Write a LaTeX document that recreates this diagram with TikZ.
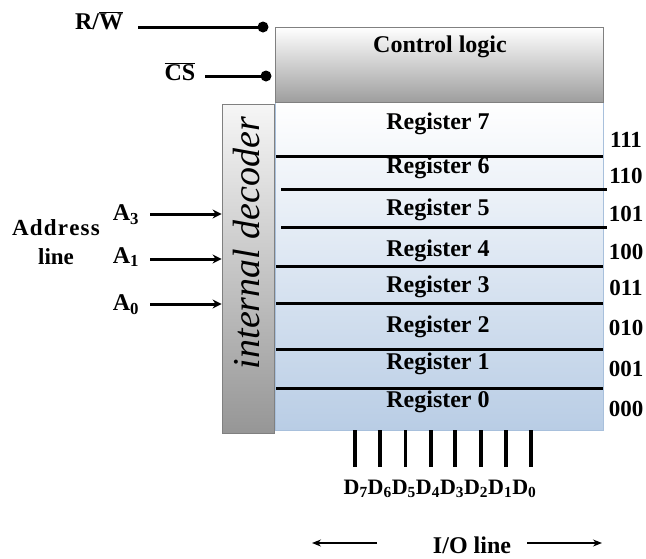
\documentclass[tikz,border=0pt]{standalone}
\usepackage{fontspec}
\setmainfont{Liberation Serif}
\usetikzlibrary{arrows.meta}
\definecolor{ctrlbot}{HTML}{9E9E9E}
\definecolor{regbot}{HTML}{B9CDE5}
\definecolor{regedge}{HTML}{A8C0DC}
\definecolor{decbot}{HTML}{969696}
\definecolor{dectop}{HTML}{F6F6F6}
\tikzset{
  lbl/.style={font=\fontsize{24}{28}\selectfont\bfseries, inner sep=0pt},
  bin/.style={font=\fontsize{23}{28}\selectfont\bfseries, inner sep=0pt},
  sepline/.style={line width=3pt},
  dline/.style={line width=3.2pt},
  inarrow/.style={line width=3pt, -{Stealth[length=9pt,width=9pt]}},
  ioarrow/.style={line width=1.2pt, -{Stealth[length=9pt,width=7pt]}},
  ctrlbox/.style={draw=gray, line width=0.8pt, top color=white, bottom color=ctrlbot, minimum width=328pt, minimum height=75pt, inner sep=0pt},
  regbox/.style={draw=regedge, line width=0.8pt, top color=white, bottom color=regbot, minimum width=328pt, minimum height=328pt, inner sep=0pt},
  decbox/.style={draw=gray, line width=0.8pt, top color=dectop, bottom color=decbot, minimum width=52pt, minimum height=329pt, inner sep=0pt},
}
\begin{document}
\begin{tikzpicture}[x=1pt,y=-1pt]
\useasboundingbox (0,0) rectangle (646,558);
% boxes
\node[regbox] (reg) at (439,266) {};
\node[ctrlbox] (ctrl) at (439,64.5) {};
\node[decbox] (dec) at (248,268.5) {};
\node[lbl] (ctrltxt) at (440,47) {Control logic};
\node[font=\fontsize{38}{40}\selectfont\itshape, rotate=90, inner sep=0pt] (dectxt) at (247,243) {internal decoder};
% control inputs
\coordinate (rwdot) at (263,27);
\coordinate (csdot) at (266,76);
\node[lbl] (rw) at (99,21) {R/$\overline{\hbox{W}}$};
\node[lbl] (cs) at (180,72) {$\overline{\hbox{CS}}$};
\coordinate (rwstart) at (138,27);
\coordinate (csstart) at (205,76);
\draw[line width=3pt] (rwstart) -- (rwdot);
\draw[line width=3pt] (csstart) -- (csdot);
\fill (rwdot) circle (5.5pt);
\fill (csdot) circle (5.5pt);
% address
\node[lbl, align=center, font=\fontsize{23}{29}\selectfont\bfseries] (addr) at (56,242) {A\hspace{1.2pt}d\hspace{1.2pt}d\hspace{1.2pt}r\hspace{1.2pt}e\hspace{1.2pt}s\hspace{1.2pt}s\\line};
\node[lbl] (a3) at (126,215) {A\textsubscript{3}};
\node[lbl] (a1) at (126,257) {A\textsubscript{1}};
\node[lbl] (a0) at (126,305) {A\textsubscript{0}};
\coordinate (a3s) at (150,214);
\coordinate (a1s) at (150,259);
\coordinate (a0s) at (150,304);
\draw[inarrow] (a3s) -- (a3s -| dec.west);
\draw[inarrow] (a1s) -- (a1s -| dec.west);
\draw[inarrow] (a0s) -- (a0s -| dec.west);
% separators
\coordinate (s1a) at (276,156); \coordinate (s1b) at (603,156);
\coordinate (s2a) at (281,189); \coordinate (s2b) at (607,189);
\coordinate (s3a) at (281,227); \coordinate (s3b) at (607,227);
\coordinate (s4a) at (276,266); \coordinate (s4b) at (603,266);
\coordinate (s5a) at (276,303); \coordinate (s5b) at (603,303);
\coordinate (s6a) at (276,349); \coordinate (s6b) at (603,349);
\coordinate (s7a) at (276,388); \coordinate (s7b) at (603,388);
\foreach \i in {1,...,7} {\draw[sepline] (s\i a) -- (s\i b);}
% register labels
\node[lbl] (r7) at (438,124) {Register 7};
\node[lbl] (r6) at (438,168) {Register 6};
\node[lbl] (r5) at (438,210) {Register 5};
\node[lbl] (r4) at (438,251) {Register 4};
\node[lbl] (r3) at (438,287) {Register 3};
\node[lbl] (r2) at (438,327) {Register 2};
\node[lbl] (r1) at (438,364) {Register 1};
\node[lbl] (r0) at (438,402) {Register 0};
% binary
\node[bin] (b7) at (626,140) {111};
\node[bin] (b6) at (626,176) {110};
\node[bin] (b5) at (626,214) {101};
\node[bin] (b4) at (626,252) {100};
\node[bin] (b3) at (626,288) {011};
\node[bin] (b2) at (626,328) {010};
\node[bin] (b1) at (626,369) {001};
\node[bin] (b0) at (626,409) {000};
% data lines
\foreach \x [count=\k] in {355,380,405.5,431,455,481,506,531} {
  \coordinate (dt\k) at (\x,430);
  \coordinate (db\k) at (\x,467);
  \draw[dline] (dt\k) -- (db\k);
}
\node[lbl, font=\fontsize{22}{26}\selectfont\bfseries] (dlab) at (440,489) {D\textsubscript{7}D\textsubscript{6}D\textsubscript{5}D\textsubscript{4}D\textsubscript{3}D\textsubscript{2}D\textsubscript{1}D\textsubscript{0}};
% I/O line
\node[lbl] (io) at (472,545) {I/O line};
\coordinate (ioL1) at (377,543); \coordinate (ioL2) at (312,543);
\coordinate (ioR1) at (527,543); \coordinate (ioR2) at (602,543);
\draw[ioarrow] (ioL1) -- (ioL2);
\draw[ioarrow] (ioR1) -- (ioR2);
\end{tikzpicture}
\end{document}
